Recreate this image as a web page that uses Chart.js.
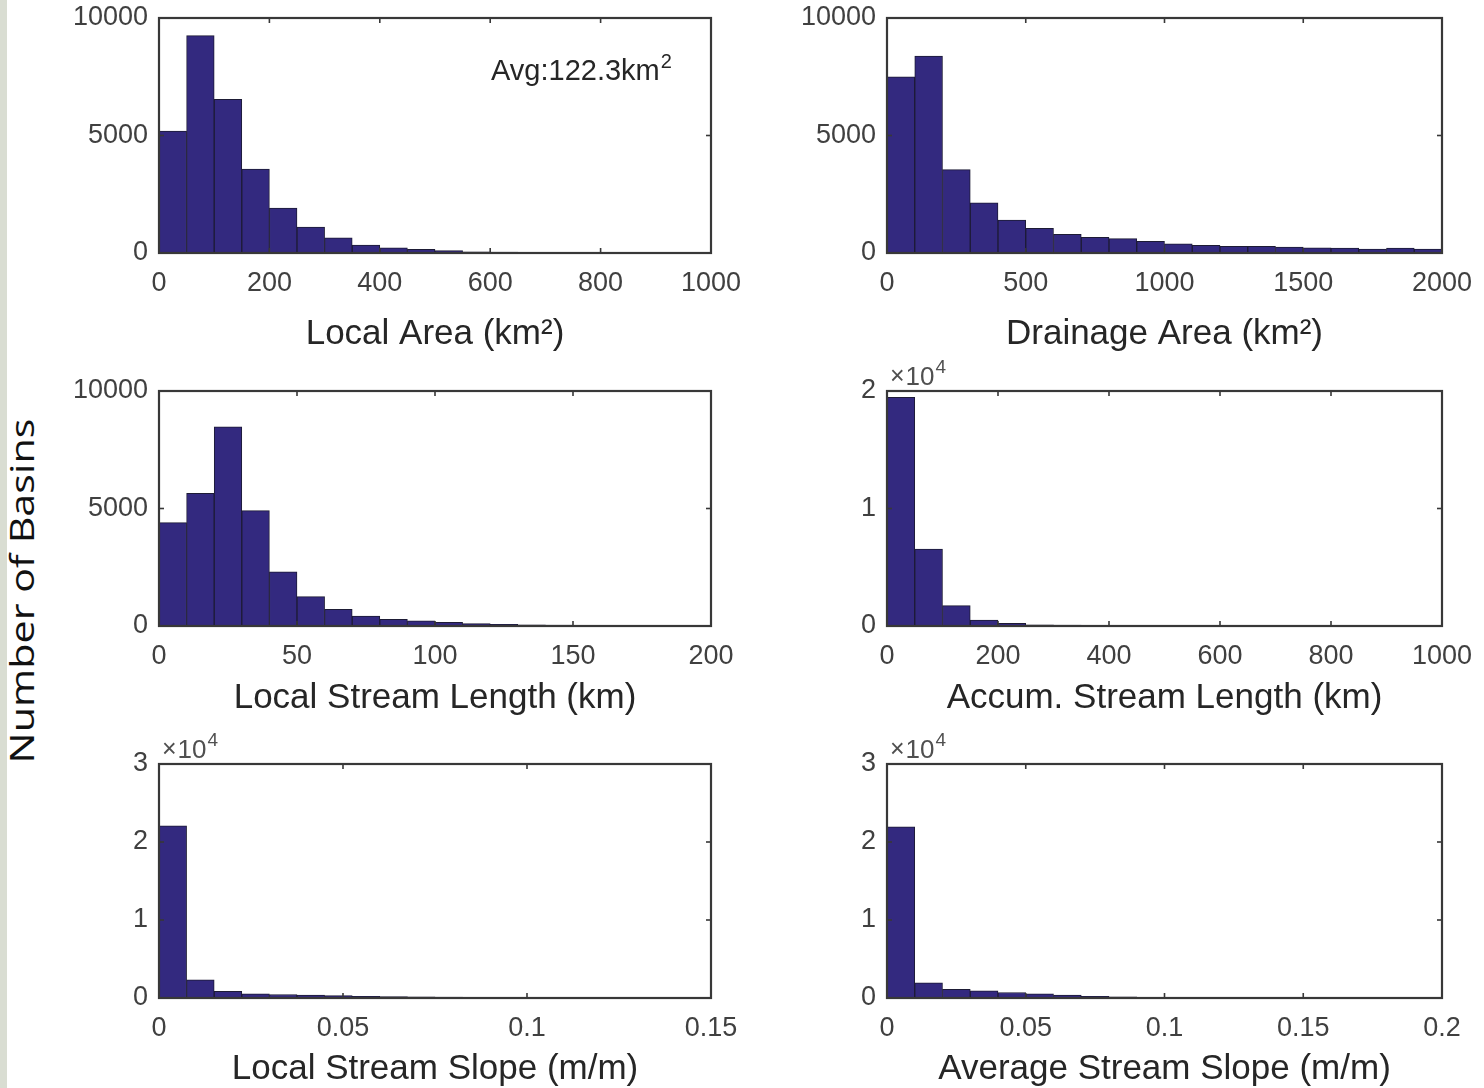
<!DOCTYPE html>
<html>
<head>
<meta charset="utf-8">
<script src="https://cdn.jsdelivr.net/npm/chart.js@4.4.1/dist/chart.umd.min.js"></script>
<style>
html,body{margin:0;padding:0;background:#ffffff;width:1484px;height:1088px;overflow:hidden;position:relative;}
#strip{position:absolute;left:0;top:0;width:7px;height:1088px;background:#d9ddd2;}
canvas{position:absolute;}
#ylab{position:absolute;left:-178px;top:571px;width:400px;height:40px;line-height:40px;text-align:center;
  transform:rotate(-90deg) scaleX(1.29);font-family:'Open Sans',sans-serif;font-size:32px;color:#111111;white-space:nowrap;}
</style>
</head>
<body>
<div id="strip"></div>
<div id="ylab">Number of Basins</div>
<canvas id="c1" width="710" height="367" style="left:50px;top:-12px"></canvas>
<canvas id="c2" width="716" height="367" style="left:780px;top:-12px"></canvas>
<canvas id="c3" width="710" height="373" style="left:50px;top:355px"></canvas>
<canvas id="c4" width="716" height="373" style="left:780px;top:355px"></canvas>
<canvas id="c5" width="710" height="362" style="left:50px;top:728px"></canvas>
<canvas id="c6" width="716" height="362" style="left:780px;top:728px"></canvas>
<script>
// ---------- DATA ----------
const localAreaBins = [25,75,125,175,225,275,325,375,425,475,525,575,625,675,725,775,825,875,925,975];
const localAreaCounts = [5190,9250,6540,3570,1915,1105,650,340,225,155,100,55,35,25,15,10,8,5,3,2];

const drainageAreaBins = [50,150,250,350,450,550,650,750,850,950,1050,1150,1250,1350,1450,1550,1650,1750,1850,1950];
const drainageAreaCounts = [7500,8380,3545,2130,1405,1050,795,665,610,495,390,330,285,285,255,215,210,170,210,170];

const localLengthBins = [5,15,25,35,45,55,65,75,85,95,105,115,125,135,145,155,165,175,185,195];
const localLengthCounts = [4400,5645,8480,4910,2310,1250,710,425,285,215,155,100,70,50,35,25,20,15,10,10];

const accumLengthBins = [25,75,125,175,225,275,325,375,425,475,525,575,625,675,725,775,825,875,925,975];
const accumLengthCounts = [19460,6550,1730,510,230,110,70,45,35,25,20,15,12,10,8,6,5,4,3,3];

const localSlopeBins = [0.00375,0.01125,0.01875,0.02625,0.03375,0.04125,0.04875,0.05625,0.06375,0.07125,
                        0.07875,0.08625,0.09375,0.10125,0.10875,0.11625,0.12375,0.13125,0.13875,0.14625];
const localSlopeCounts = [22070,2330,870,540,450,380,300,220,180,150,120,100,90,70,60,50,40,30,30,20];

const avgSlopeBins = [0.005,0.015,0.025,0.035,0.045,0.055,0.065,0.075,0.085,0.095,
                      0.105,0.115,0.125,0.135,0.145,0.155,0.165,0.175,0.185,0.195];
const avgSlopeCounts = [21940,1945,1125,920,705,540,360,230,150,100,80,60,45,35,25,20,15,10,8,5];

const xTitles = ['Local Area (km²)','Drainage Area (km²)','Local Stream Length (km)',
                 'Accum. Stream Length (km)','Local Stream Slope (m/m)','Average Stream Slope (m/m)'];
const xRanges = [[0,1000,200],[0,2000,500],[0,200,50],[0,1000,200],[0,0.15,0.05],[0,0.2,0.05]];
const yRanges = [[0,10000,5000],[0,10000,5000],[0,10000,5000],[0,20000,10000],[0,30000,10000],[0,30000,10000]];
const avgNote = ['Avg:122.3km', '2'];

// ---------- STYLE ----------
const FONT = "'Liberation Sans', Arial, sans-serif";
const BAR = '#33297f';
const EDGE = '#1d1b35';
const FRAME = '#383838';
const TICKCOL = '#404040';
const TITLECOL = '#262626';

const fmt = v => String(Math.round(v * 1e6) / 1e6);

const framePlugin = {
  id: 'frame',
  afterDatasetsDraw(chart, args, opts) {
    const ctx = chart.ctx, a = chart.chartArea, xs = chart.scales.x, ys = chart.scales.y;
    ctx.save();
    ctx.strokeStyle = FRAME;
    ctx.lineWidth = 1.6;
    const L = 5;
    const seg = (x1,y1,x2,y2)=>{ctx.beginPath();ctx.moveTo(x1,y1);ctx.lineTo(x2,y2);ctx.stroke();};
    xs.ticks.forEach(t => {
      const p = xs.getPixelForValue(t.value);
      if (p <= a.left + 1 || p >= a.right - 1) return;
      seg(p, a.bottom, p, a.bottom - L);
      seg(p, a.top, p, a.top + L);
    });
    ys.ticks.forEach(t => {
      const p = ys.getPixelForValue(t.value);
      if (p <= a.top + 1 || p >= a.bottom - 1) return;
      seg(a.left, p, a.left + L, p);
      seg(a.right, p, a.right - L, p);
    });
    ctx.lineWidth = 2.2;
    ctx.strokeRect(a.left, a.top, a.right - a.left, a.bottom - a.top);
    if (opts.exponent) {
      ctx.fillStyle = '#505050';
      ctx.textBaseline = 'alphabetic';
      ctx.textAlign = 'left';
      let x0 = a.left + 3, base = a.top - 6;
      ctx.font = '25px ' + FONT;
      ctx.fillText('×', x0, base - 1);
      x0 += ctx.measureText('×').width + 1;
      ctx.font = '26px ' + FONT;
      ctx.fillText('10', x0, base);
      x0 += ctx.measureText('10').width + 1;
      ctx.font = '19px ' + FONT;
      ctx.fillText('4', x0, base - 12);
    }
    if (opts.note) {
      ctx.fillStyle = TITLECOL;
      ctx.textBaseline = 'alphabetic';
      ctx.textAlign = 'left';
      let x0 = a.left + 332, base = a.top + 62;
      ctx.font = '29px ' + FONT;
      ctx.fillText(opts.note[0], x0, base);
      x0 += ctx.measureText(opts.note[0]).width + 1;
      ctx.font = '20px ' + FONT;
      ctx.fillText(opts.note[1], x0, base - 12);
    }
    ctx.restore();
  }
};

function makePanel(id, bins, counts, idx, layout) {
  const xr = xRanges[idx], yr = yRanges[idx];
  const scaleY = yr[1] > 10000;
  new Chart(document.getElementById(id), {
    type: 'bar',
    data: {
      datasets: [{
        data: bins.map((b, i) => ({x: b, y: counts[i]})),
        backgroundColor: BAR,
        borderColor: EDGE,
        borderWidth: 1,
        barPercentage: 1,
        categoryPercentage: 1
      }]
    },
    options: {
      responsive: false,
      animation: false,
      devicePixelRatio: 1,
      events: [],
      layout: {padding: {top: layout.padTop, right: layout.padRight, bottom: 0, left: 0}},
      plugins: {
        legend: {display: false},
        tooltip: {enabled: false},
        frame: {exponent: scaleY, note: layout.note || null}
      },
      scales: {
        x: {
          type: 'linear',
          min: xr[0], max: xr[1],
          offset: false,
          grid: {display: false, drawTicks: false, offset: false},
          border: {display: false},
          ticks: {
            stepSize: xr[2], autoSkip: false, maxRotation: 0, padding: 14,
            color: TICKCOL, font: {family: FONT, size: 27},
            callback: v => fmt(v)
          },
          title: {
            display: true, text: xTitles[idx], color: TITLECOL,
            font: {family: FONT, size: 35},
            padding: {top: 0, bottom: layout.titlePB}
          },
          afterFit: s => { s.height = layout.xH; }
        },
        y: {
          min: yr[0], max: yr[1],
          grid: {display: false, drawTicks: false},
          border: {display: false},
          ticks: {
            stepSize: yr[2], padding: 11,
            color: TICKCOL, font: {family: FONT, size: 27},
            callback: v => scaleY ? fmt(v / 10000) : fmt(v)
          },
          afterFit: s => { s.width = layout.yW; }
        }
      }
    },
    plugins: [framePlugin]
  });
}

const L1 = {yW: 109, padRight: 49}, R1 = {yW: 107, padRight: 54};
makePanel('c1', localAreaBins, localAreaCounts, 0, Object.assign({padTop: 30, xH: 102, titlePB: 0, note: avgNote}, L1));
makePanel('c2', drainageAreaBins, drainageAreaCounts, 1, Object.assign({padTop: 30, xH: 102, titlePB: 0}, R1));
makePanel('c3', localLengthBins, localLengthCounts, 2, Object.assign({padTop: 36, xH: 102, titlePB: 9}, L1));
makePanel('c4', accumLengthBins, accumLengthCounts, 3, Object.assign({padTop: 36, xH: 102, titlePB: 9}, R1));
makePanel('c5', localSlopeBins, localSlopeCounts, 4, Object.assign({padTop: 36, xH: 92, titlePB: 0}, L1));
makePanel('c6', avgSlopeBins, avgSlopeCounts, 5, Object.assign({padTop: 36, xH: 92, titlePB: 0}, R1));
</script>
</body>
</html>
